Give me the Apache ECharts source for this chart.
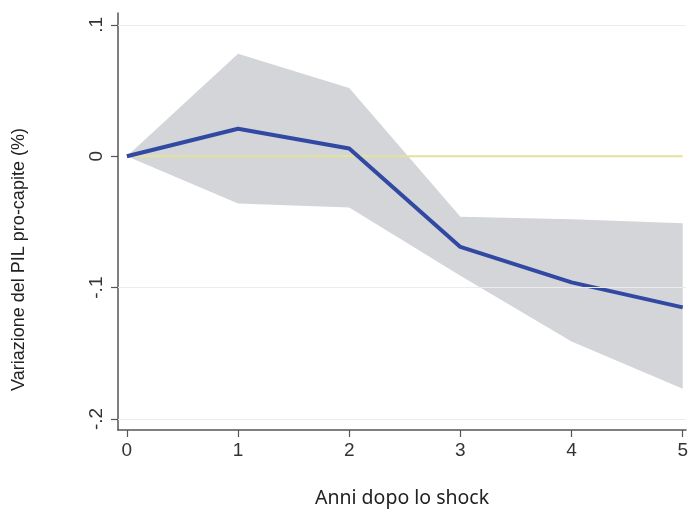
<!DOCTYPE html>
<html>
<head>
<meta charset="utf-8">
<script src="https://cdn.jsdelivr.net/npm/echarts@6/dist/echarts.min.js"></script>
<style>
  html, body { margin: 0; padding: 0; background: #fff; }
  #chart { width: 691px; height: 514px; }
</style>
</head>
<body>
<div id="chart"></div>
<script>
const years = [0, 1, 2, 3, 4, 5]
const effect = [0, 0.021, 0.006, -0.069, -0.096, -0.115]
const upperCI = [0, 0.078, 0.052, -0.046, -0.048, -0.051]
const lowerCI = [0, -0.036, -0.039, -0.091, -0.141, -0.177]
const yTicks = [-0.2, -0.1, 0, 0.1]
const yTickLabels = { '-0.2': '-.2', '-0.1': '-.1', '0': '0', '0.1': '.1' }

const chart = echarts.init(document.getElementById('chart'))

// confidence band drawn as one polygon: upper edge left→right, lower edge back
function renderBand(params, api) {
  if (params.dataIndex !== 0) return null
  const pts = []
  years.forEach((x, i) => pts.push(api.coord([x, upperCI[i]])))
  for (let i = years.length - 1; i >= 0; i--) pts.push(api.coord([years[i], lowerCI[i]]))
  return {
    type: 'polygon',
    shape: { points: pts },
    style: { fill: '#d3d5d8' }
  }
}

const option = {
  animation: false,
  grid: { left: 118, right: 4, top: 13, bottom: 84 },
  xAxis: {
    type: 'value',
    min: -0.08,
    max: 5.03,
    name: 'Anni dopo lo shock',
    nameLocation: 'middle',
    nameGap: 58,
    nameTextStyle: { fontFamily: 'Noto Sans', fontSize: 19.5, color: '#222' },
    axisLine: { onZero: false, lineStyle: { color: '#555', width: 1.5 } },
    axisTick: { customValues: years, length: 7, lineStyle: { color: '#555', width: 1.2 } },
    axisLabel: {
      customValues: years,
      color: '#333',
      fontFamily: 'Liberation Sans Narrow, Liberation Sans',
      fontSize: 19,
      margin: 11
    },
    splitLine: { show: false }
  },
  yAxis: {
    type: 'value',
    min: -0.2084,
    max: 0.1091,
    name: 'Variazione del PIL pro-capite (%)',
    nameLocation: 'middle',
    nameGap: 90,
    nameTextStyle: {
      fontFamily: 'Liberation Sans',
      fontSize: 18,
      color: '#222',
      padding: [0, 76, 0, 0]
    },
    axisLine: { show: true, onZero: false, lineStyle: { color: '#555', width: 1.5 } },
    axisTick: { show: true, customValues: yTicks, length: 7, lineStyle: { color: '#555', width: 1.2 } },
    axisLabel: {
      customValues: yTicks,
      rotate: 90,
      color: '#333',
      fontFamily: 'Liberation Sans Narrow, Liberation Sans',
      fontSize: 19,
      margin: 12,
      formatter: v => yTickLabels[String(Math.round(v * 10) / 10)] ?? ''
    },
    splitLine: { show: false }
  },
  series: [
    {
      name: 'gridlines',
      type: 'line',
      data: [],
      markLine: {
        silent: true,
        symbol: 'none',
        label: { show: false },
        lineStyle: { color: '#ececec', width: 1.2, type: 'solid' },
        data: [{ yAxis: 0.1 }, { yAxis: -0.1 }, { yAxis: -0.2 }]
      },
      z: 1
    },
    {
      name: 'band',
      type: 'custom',
      renderItem: renderBand,
      data: years.map((x, i) => [x, upperCI[i], lowerCI[i]]),
      encode: { x: 0, y: [1, 2] },
      z: 2
    },
    {
      name: 'zero',
      type: 'line',
      data: [[years[0], 0], [years[years.length - 1], 0]],
      symbol: 'none',
      lineStyle: { color: '#e3e39c', width: 2 },
      z: 3
    },
    {
      name: 'effect',
      type: 'line',
      data: years.map((x, i) => [x, effect[i]]),
      symbol: 'none',
      lineStyle: { color: '#3249a3', width: 4 },
      z: 4
    }
  ]
}

chart.setOption(option)
window.addEventListener('resize', () => chart.resize())
</script>
</body>
</html>
